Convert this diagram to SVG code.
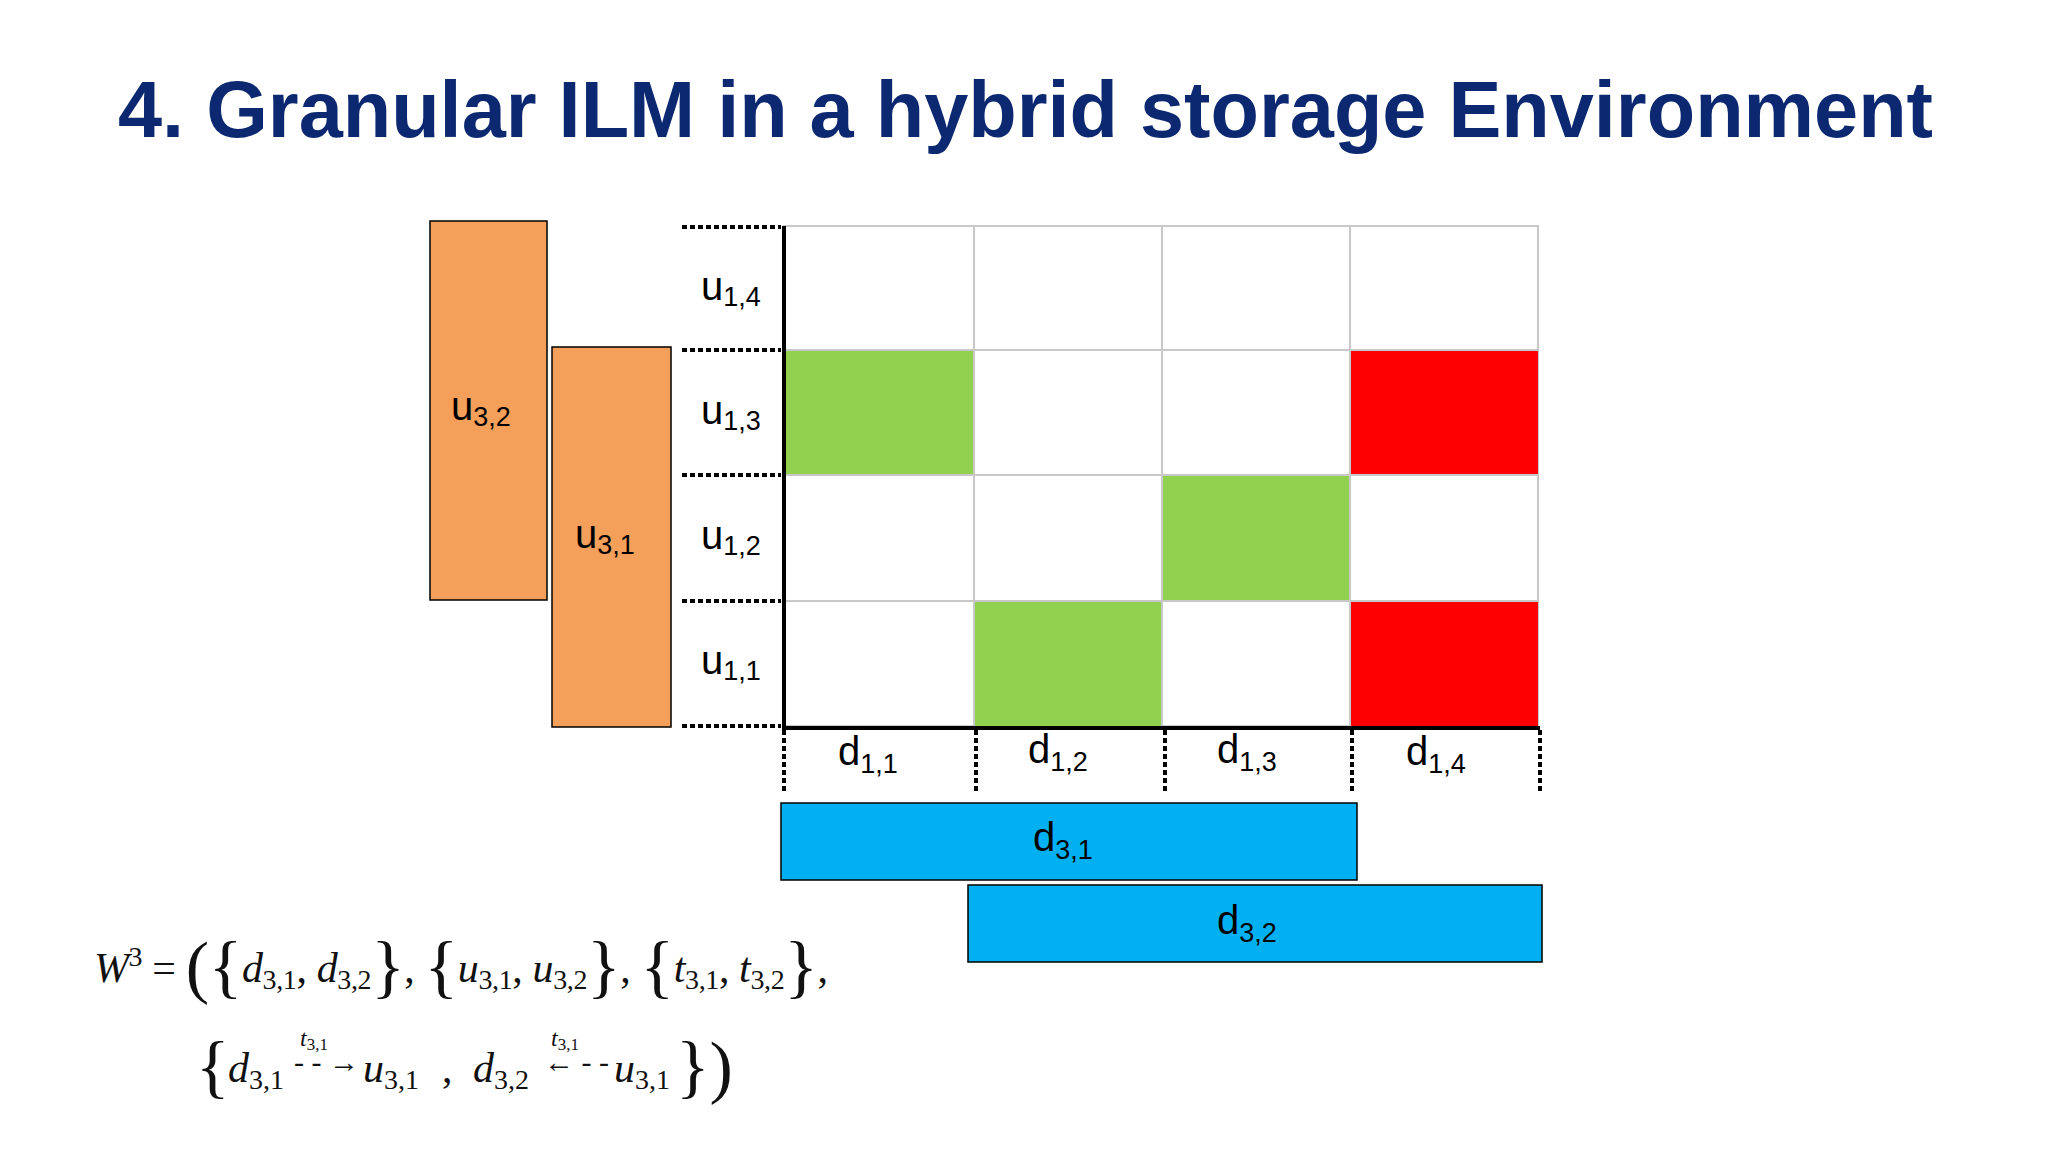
<svg xmlns="http://www.w3.org/2000/svg" width="2048" height="1152" viewBox="0 0 2048 1152">
<style>
.lab{font-family:"Liberation Sans",Arial,sans-serif;font-size:40px;fill:#000}
.sub{font-size:27px}
.m{font-family:"Liberation Serif","DejaVu Serif",serif;font-size:42px;fill:#111}
.mi{font-style:italic}
.ms{font-size:28px;font-style:normal}
.br{font-size:70px;font-weight:normal}
.cell{stroke:#c8c8c8;stroke-width:2}
.dash{stroke:#000;stroke-width:4;stroke-dasharray:5 3;fill:none}
</style>
<rect width="2048" height="1152" fill="#fff"/>
<text x="118" y="137" font-family="Liberation Sans,Arial,sans-serif" font-weight="bold" font-size="80" fill="#0c2870" textLength="1815" lengthAdjust="spacingAndGlyphs">4. Granular ILM in a hybrid storage Environment</text>

<g id="grid">
<rect x="784" y="226" width="754" height="500" fill="#fff" class="cell"/>
<rect x="784" y="350" width="190" height="125" fill="#92d050"/>
<rect x="1162" y="475" width="188" height="126" fill="#92d050"/>
<rect x="974" y="601" width="188" height="125" fill="#92d050"/>
<rect x="1350" y="350" width="188" height="125" fill="#ff0000"/>
<rect x="1350" y="601" width="188" height="125" fill="#ff0000"/>
<path class="cell" fill="none" d="M974 226V726M1162 226V726M1350 226V726M784 350H1538M784 475H1538M784 601H1538"/>
<path d="M784 226V728H1540" stroke="#000" stroke-width="4" fill="none"/>
</g>
<g id="connectors">
<path class="dash" d="M682 227H781M682 350H781M682 475H781M682 601H781M682 726H781"/>
<path class="dash" d="M784 730V794M976 730V794M1165 730V794M1352 730V794M1540 730V794"/>
</g>
<g id="rowlabels" class="lab">
<text x="701" y="300">u<tspan class="sub" dy="6">1,4</tspan></text>
<text x="701" y="424">u<tspan class="sub" dy="6">1,3</tspan></text>
<text x="701" y="549">u<tspan class="sub" dy="6">1,2</tspan></text>
<text x="701" y="674">u<tspan class="sub" dy="6">1,1</tspan></text>
</g>
<g id="collabels" class="lab">
<text x="838" y="765">d<tspan class="sub" dy="8">1,1</tspan></text>
<text x="1028" y="763">d<tspan class="sub" dy="8">1,2</tspan></text>
<text x="1217" y="763">d<tspan class="sub" dy="8">1,3</tspan></text>
<text x="1406" y="765">d<tspan class="sub" dy="8">1,4</tspan></text>
</g>
<g id="u32"><rect x="430" y="221" width="117" height="379" fill="#f4a05a" stroke="#000" stroke-width="1.5"/><text class="lab" x="451" y="420">u<tspan class="sub" dy="6">3,2</tspan></text></g>
<g id="u31"><rect x="552" y="347" width="119" height="380" fill="#f4a05a" stroke="#000" stroke-width="1.5"/><text class="lab" x="575" y="548">u<tspan class="sub" dy="6">3,1</tspan></text></g>
<g id="d31"><rect x="781" y="803" width="576" height="77" fill="#00b0f0" stroke="#000" stroke-width="1.5"/><text class="lab" x="1033" y="851">d<tspan class="sub" dy="8">3,1</tspan></text></g>
<g id="d32"><rect x="968" y="885" width="574" height="77" fill="#00b0f0" stroke="#000" stroke-width="1.5"/><text class="lab" x="1217" y="934">d<tspan class="sub" dy="8">3,2</tspan></text></g>

<g id="formula" class="m">
<text x="94" y="982" textLength="734" lengthAdjust="spacing"><tspan class="mi">W</tspan><tspan class="ms" dy="-16">3</tspan><tspan dy="16"> = </tspan><tspan class="br" dy="8">(</tspan><tspan class="br">{</tspan><tspan class="mi" dy="-8">d</tspan><tspan class="ms" dy="7">3,1</tspan><tspan dy="-7">, </tspan><tspan class="mi">d</tspan><tspan class="ms" dy="7">3,2</tspan><tspan class="br" dy="1">}</tspan><tspan dy="-8">, </tspan><tspan class="br" dy="8">{</tspan><tspan class="mi" dy="-8">u</tspan><tspan class="ms" dy="7">3,1</tspan><tspan dy="-7">, </tspan><tspan class="mi">u</tspan><tspan class="ms" dy="7">3,2</tspan><tspan class="br" dy="1">}</tspan><tspan dy="-8">, </tspan><tspan class="br" dy="8">{</tspan><tspan class="mi" dy="-8">t</tspan><tspan class="ms" dy="7">3,1</tspan><tspan dy="-7">, </tspan><tspan class="mi">t</tspan><tspan class="ms" dy="7">3,2</tspan><tspan class="br" dy="1">}</tspan><tspan dy="-8">,</tspan></text>
<text x="196" y="1090" class="br">{</text>
<text x="228" y="1082"><tspan class="mi">d</tspan><tspan class="ms" dy="7">3,1</tspan></text>
<text x="300" y="1046" class="mi" font-size="24">t<tspan font-size="17" font-style="normal" dy="4">3,1</tspan></text>
<text x="294" y="1072" font-size="30">- - →</text>
<text x="363" y="1082"><tspan class="mi">u</tspan><tspan class="ms" dy="7">3,1</tspan></text>
<text x="442" y="1082">,</text>
<text x="473" y="1082"><tspan class="mi">d</tspan><tspan class="ms" dy="7">3,2</tspan></text>
<text x="551" y="1046" class="mi" font-size="24">t<tspan font-size="17" font-style="normal" dy="4">3,1</tspan></text>
<text x="544" y="1072" font-size="30">← - -</text>
<text x="614" y="1082"><tspan class="mi">u</tspan><tspan class="ms" dy="7">3,1</tspan></text>
<text x="676" y="1090" class="br">})</text>
</g>
</svg>
